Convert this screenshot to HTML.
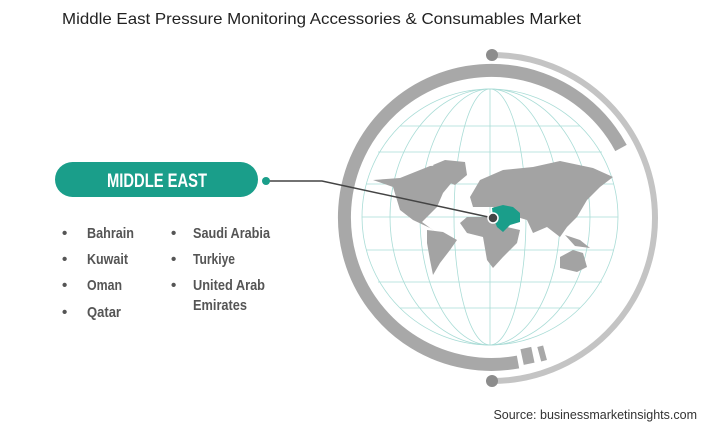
<!DOCTYPE html>
<html><head><meta charset="utf-8"><style>
body{margin:0;width:720px;height:430px;background:#fff;overflow:hidden;font-family:"Liberation Sans",sans-serif}
</style></head><body>
<svg width="720" height="430" viewBox="0 0 720 430" xmlns="http://www.w3.org/2000/svg">
<text x="62" y="24" font-family="Liberation Sans, sans-serif" font-size="16" fill="#222" textLength="519" lengthAdjust="spacingAndGlyphs">Middle East Pressure Monitoring Accessories &amp; Consumables Market</text>
<path d="M492 55 A163 163 0 0 1 492 381" fill="none" stroke="#c4c4c4" stroke-width="6"/>
<circle cx="492" cy="55" r="6" fill="#8c8c8c"/>
<circle cx="492" cy="381" r="6" fill="#8c8c8c"/>
<path d="M621 148 A147 147 0 1 0 518 362" fill="none" stroke="#a8a8a8" stroke-width="13"/>
<rect x="522" y="348" width="11" height="16" fill="#a8a8a8" transform="rotate(-12 527 356)"/>
<rect x="539" y="346" width="6" height="15" fill="#a8a8a8" transform="rotate(-15 542 353)"/>
<g fill="none" stroke="#a9dcd6" stroke-width="0.8">
<circle cx="490" cy="217" r="128"/>
<ellipse cx="490" cy="217" rx="100" ry="128"/>
<ellipse cx="490" cy="217" rx="70" ry="128"/>
<ellipse cx="490" cy="217" rx="36" ry="128"/>
<line x1="490" y1="89" x2="490" y2="345"/>
<line x1="400" y1="126" x2="580" y2="126"/>
<line x1="378" y1="152" x2="602" y2="152"/>
<line x1="366" y1="184" x2="614" y2="184"/>
<line x1="362" y1="217" x2="618" y2="217"/>
<line x1="366" y1="250" x2="614" y2="250"/>
<line x1="378" y1="282" x2="602" y2="282"/>
<line x1="400" y1="308" x2="580" y2="308"/>
</g>
<g fill="#a3a3a3">
<polygon points="373,180 400,178 430,166 445,165 458,175 443,193 437,207 427,217 422,222 437,233 430,228 413,220 400,210 393,187"/>
<polygon points="433,165 445,160 465,162 467,175 455,185 443,180"/>
<polygon points="427,230 443,232 457,240 450,250 440,263 433,275 430,260 427,243"/>
<polygon points="470,197 480,180 503,170 533,167 560,161 593,168 613,177 600,187 587,200 577,217 567,227 560,237 547,227 533,233 527,220 517,217 493,207 473,207"/>
<polygon points="467,217 490,217 507,227 520,230 517,243 503,257 493,268 487,260 483,237 467,233 460,223"/>
<polygon points="560,257 573,250 583,253 587,267 577,272 560,268"/>
<polygon points="565,235 580,240 590,248 575,246"/>
</g>
<polygon points="492,208 503,205 513,207 520,213 520,222 510,225 503,232 497,227 493,217" fill="#1a9e8a"/>
<polyline points="266,181 322,181 493,218" fill="none" stroke="#444" stroke-width="1.5"/>
<circle cx="493" cy="218" r="5" fill="#444" stroke="#fff" stroke-width="1.5"/>
<circle cx="266" cy="181" r="4" fill="#1a9e8a"/>
<rect x="55" y="162" width="203" height="35" rx="17.5" fill="#1a9e8a"/>
<text x="107" y="187" font-family="Liberation Sans, sans-serif" font-weight="bold" font-size="19" fill="#fff" textLength="100" lengthAdjust="spacingAndGlyphs">MIDDLE EAST</text>
<g font-family="Liberation Sans, sans-serif" font-weight="bold" font-size="15" fill="#555">
<text x="62" y="238">•</text><text x="87" y="238" textLength="47" lengthAdjust="spacingAndGlyphs">Bahrain</text>
<text x="62" y="264">•</text><text x="87" y="264" textLength="41" lengthAdjust="spacingAndGlyphs">Kuwait</text>
<text x="62" y="290">•</text><text x="87" y="290" textLength="35" lengthAdjust="spacingAndGlyphs">Oman</text>
<text x="62" y="317">•</text><text x="87" y="317" textLength="34" lengthAdjust="spacingAndGlyphs">Qatar</text>
<text x="171" y="238">•</text><text x="193" y="238" textLength="77" lengthAdjust="spacingAndGlyphs">Saudi Arabia</text>
<text x="171" y="264">•</text><text x="193" y="264" textLength="42" lengthAdjust="spacingAndGlyphs">Turkiye</text>
<text x="171" y="290">•</text><text x="193" y="290" textLength="72" lengthAdjust="spacingAndGlyphs">United Arab</text>
<text x="193" y="310" textLength="54" lengthAdjust="spacingAndGlyphs">Emirates</text>
</g>
<text x="697" y="419" text-anchor="end" font-family="Liberation Sans, sans-serif" font-size="12.5" fill="#333">Source: businessmarketinsights.com</text>
</svg>
</body></html>
